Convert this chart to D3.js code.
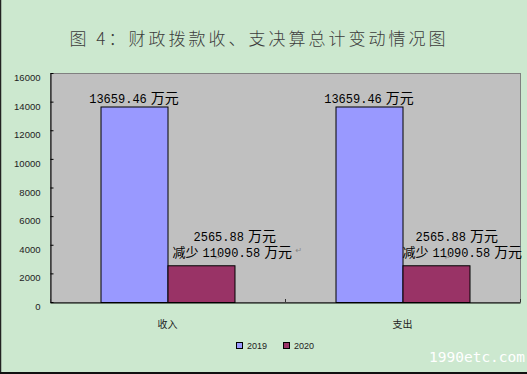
<!DOCTYPE html>
<html>
<head>
<meta charset="utf-8">
<script src="https://cdn.jsdelivr.net/npm/d3@7"></script>
<style>
  body { margin: 0; background: #cce8cf; }
  svg { display: block; }
</style>
</head>
<body>
<svg id="chart" width="527" height="374"></svg>
<script>
// chart data
var categories = ["收入", "支出"];
var years = ["2019", "2020"];
var values2019 = [13659.46, 13659.46];
var values2020 = [2565.88, 2565.88];
var decrease = [11090.58, 11090.58];
var yTicks = [0, 2000, 4000, 6000, 8000, 10000, 12000, 14000, 16000];
var colors = ["#9999ff", "#993366"];

// where the 2020 notes start, relative to the bar's left edge
var noteShift = [[26, 5], [13, 0]];

var svg = d3.select("#chart");
// note: "top" is taken by window.top, so plot edges get their own names
var plotLeft = 50, plotRight = 520, plotTop = 73, plotBottom = 302;

var x0 = d3.scaleBand().domain(categories).range([plotLeft, plotRight]);
var x1 = d3.scaleBand().domain(years).range([0, x0.bandwidth()])
    .paddingInner(0).paddingOuter(0.754);
var y = d3.scaleLinear().domain([0, 16000]).range([plotBottom, plotTop]);

// outer frame lines
svg.append("line").attr("x1", 0.5).attr("x2", 0.5).attr("y1", 0).attr("y2", 374)
    .attr("stroke", "#222").attr("stroke-width", 1.5);
svg.append("line").attr("x1", 0).attr("x2", 527).attr("y1", 373).attr("y2", 373)
    .attr("stroke", "#111").attr("stroke-width", 2);

// title
svg.append("text")
    .attr("x", 259).attr("y", 45)
    .attr("text-anchor", "middle")
    .style("font-family", "'Noto Sans CJK SC'")
    .style("font-size", "17px")
    .style("font-weight", 300)
    .style("letter-spacing", "3px")
    .attr("fill", "#3c3c3c")
    .text("图 4：财政拨款收、支决算总计变动情况图");

// plot area
svg.append("rect")
    .attr("x", plotLeft + 0.5).attr("y", plotTop + 0.5)
    .attr("width", plotRight - plotLeft).attr("height", plotBottom - plotTop)
    .attr("fill", "#c0c0c0").attr("stroke", "#808080");

// bars
var rows = categories.map(function(c, i) {
    return { cat: c, vals: [values2019[i], values2020[i]], dec: decrease[i], i: i };
});

var groups = svg.selectAll("g.cat")
    .data(rows)
    .enter()
    .append("g")
    .attr("class", "cat")
    .attr("transform", function(d) { return "translate(" + x0(d.cat) + ",0)"; });

groups.selectAll("rect")
    .data(function(d) { return d.vals.map(function(v, k) { return { year: years[k], v: v, k: k }; }); })
    .enter()
    .append("rect")
    .attr("x", function(d) { return x1(d.year) + 0.5; })
    .attr("y", function(d) { return y(d.v) + 0.5; })
    .attr("width", x1.bandwidth())
    .attr("height", function(d) { return plotBottom - y(d.v); })
    .attr("fill", function(d) { return colors[d.k]; })
    .attr("stroke", "#000")
    .attr("stroke-width", 1);

// y axis, ticks pointing inside
var yAxis = d3.axisLeft(y).tickValues(yTicks).tickSizeInner(-3).tickSizeOuter(0).tickPadding(10)
    .tickFormat(d3.format("d"));
var ya = svg.append("g").attr("transform", "translate(" + (plotLeft + 0.5) + ",0)").call(yAxis);
ya.select(".domain").attr("stroke", "#000");
ya.selectAll("line").attr("stroke", "#000");
ya.selectAll("text")
    .attr("dy", null).attr("y", 7.5)
    .style("font-family", "'Liberation Sans', Arial")
    .style("font-size", "9.5px")
    .attr("fill", "#222");

// x axis with category labels
var xAxis = d3.axisBottom(x0).tickSize(0).tickPadding(18);
var xa = svg.append("g").attr("transform", "translate(0," + (plotBottom + 0.5) + ")").call(xAxis);
xa.select(".domain").attr("stroke", "#000");
xa.selectAll("text")
    .style("font-family", "'Noto Sans CJK SC'")
    .style("font-size", "10px")
    .attr("fill", "#222");

// boundary ticks between categories
var bounds = categories.map(function(c) { return x0(c); }).concat([plotRight]);
svg.selectAll("line.bound")
    .data(bounds)
    .enter()
    .append("line")
    .attr("class", "bound")
    .attr("x1", function(d) { return d + 0.5; })
    .attr("x2", function(d) { return d + 0.5; })
    .attr("y1", plotBottom)
    .attr("y2", plotBottom - 3)
    .attr("stroke", "#333");

// value labels
function note(g, x, yy, anchor, parts) {
    var t = g.append("text").attr("x", x).attr("y", yy).attr("text-anchor", anchor).attr("fill", "#000");
    parts.forEach(function(p) {
        t.append("tspan")
            .attr("dx", p.dx || 0)
            .style("font-family", p.mono ? "'Liberation Mono', monospace" : "'Noto Sans CJK SC'")
            .style("font-size", p.size + "px")
            .text(p.t);
    });
    return t;
}

groups.each(function(d) {
    var g = d3.select(this);
    var bx0 = x1(years[0]), bx1 = x1(years[1]);
    note(g, bx0 + x1.bandwidth() / 2, y(d.vals[0]) - 3.5, "middle", [
        { t: d.vals[0].toFixed(2), mono: true, size: 12 },
        { t: "万元", size: 14, dx: 4 }
    ]);
    note(g, bx1 + noteShift[d.i][0], y(d.vals[1]) - 24, "start", [
        { t: d.vals[1].toFixed(2), mono: true, size: 12 },
        { t: "万元", size: 14, dx: 4 }
    ]);
    note(g, bx1 + noteShift[d.i][1], y(d.vals[1]) - 8.5, "start", [
        { t: "减少", size: 13 },
        { t: d.dec.toFixed(2), mono: true, size: 12, dx: 4 },
        { t: "万元", size: 14, dx: 4 }
    ]);
    // stray paragraph marks from the source document
    g.append("text")
        .attr("x", bx1 + noteShift[d.i][1] + 42).attr("y", y(d.vals[1]) - 5)
        .style("font-family", "'DejaVu Sans'").style("font-size", "7px")
        .attr("fill", "#888").text("↵");
    if (d.i === 0) {
        g.append("text")
            .attr("x", bx1 + noteShift[d.i][1] + 123).attr("y", y(d.vals[1]) - 12)
            .style("font-family", "'DejaVu Sans'").style("font-size", "8px")
            .attr("fill", "#888").text("↵");
    }
});

// legend
var legend = svg.selectAll("g.legend")
    .data(years)
    .enter()
    .append("g")
    .attr("class", "legend")
    .attr("transform", function(d, i) { return "translate(" + (236 + i * 47) + ",342)"; });

legend.append("rect")
    .attr("x", 0.5).attr("y", 0.5).attr("width", 6).attr("height", 6)
    .attr("fill", function(d, i) { return colors[i]; })
    .attr("stroke", "#000");

legend.append("text")
    .attr("x", 11).attr("y", 7)
    .style("font-family", "'Liberation Sans', Arial")
    .style("font-size", "9px")
    .attr("fill", "#222")
    .text(function(d) { return d; });

// watermark
svg.append("text")
    .attr("x", 429).attr("y", 362)
    .style("font-family", "'DejaVu Sans Mono', monospace")
    .style("font-size", "14.5px")
    .attr("fill", "#ffffff")
    .text("1990etc.com");
</script>
</body>
</html>
